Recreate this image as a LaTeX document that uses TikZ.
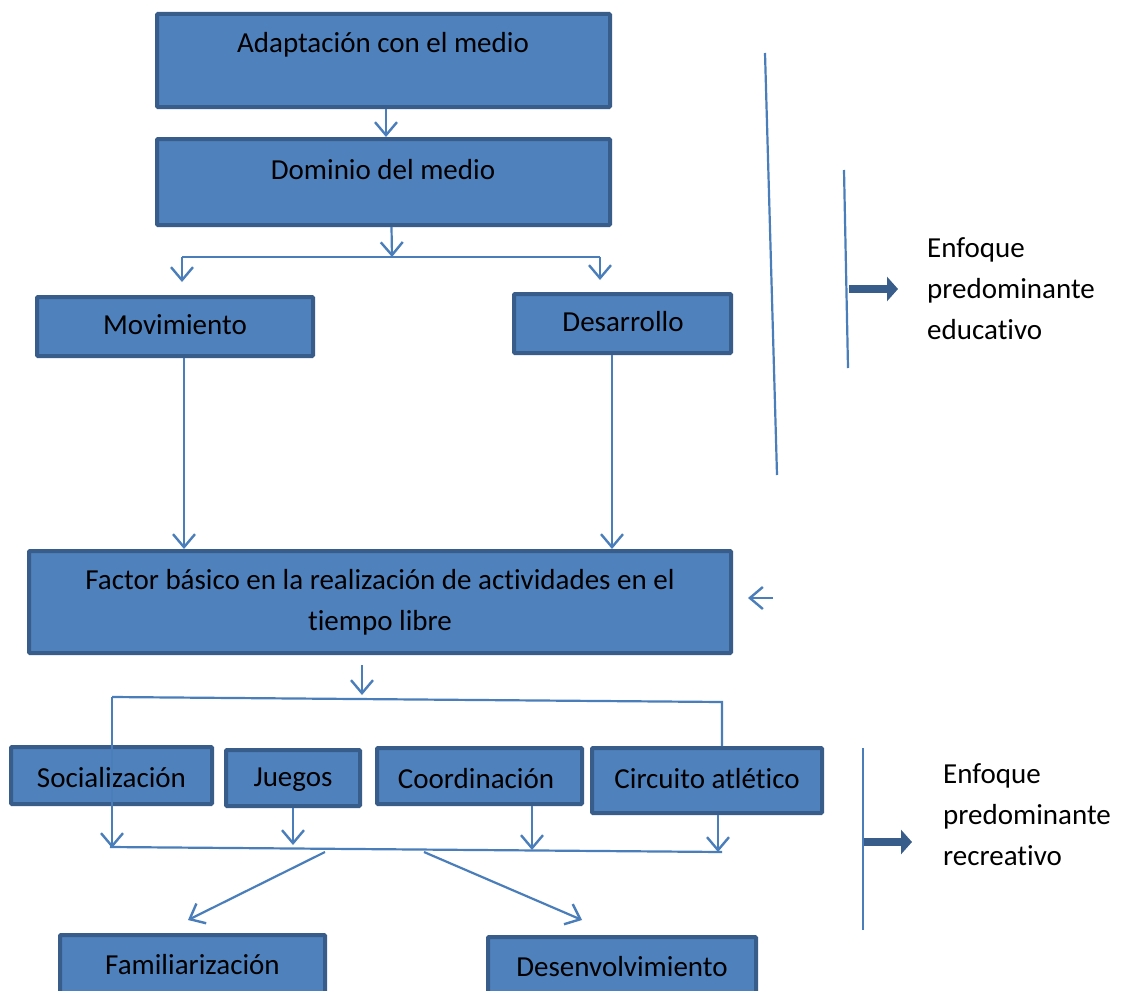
\documentclass[tikz,border=0pt]{standalone}
\usepackage{fontspec}
\setmainfont{Carlito}[Ligatures={NoCommon,NoRequired,NoContextual}]
\usetikzlibrary{arrows.meta,calc}
\definecolor{boxfill}{RGB}{79,129,189}
\definecolor{boxedge}{RGB}{56,93,138}
\definecolor{connc}{RGB}{74,126,187}
\begin{document}
\begin{tikzpicture}[x=1pt,y=-1pt,
  box/.style={draw=boxedge, fill=boxfill, line width=4pt, inner sep=0pt, rounded corners=1pt},
  txt/.style={font=\fontsize{29}{41}\selectfont, text=black, inner sep=0pt, align=center},
  side/.style={font=\fontsize{29}{41}\selectfont, text=black, inner sep=0pt, align=left, anchor=west},
  conn/.style={draw=connc, line width=2.2pt},
  arr/.style={conn, -{Straight Barb[length=13pt,width=22pt,line width=2.4pt]}},
  bigarr/.style={draw=boxedge, line width=8pt, -{Triangle[length=11pt,width=24pt]}}]
\path[use as bounding box] (0,0) rectangle (1126,990);
\clip (0,0) rectangle (1126,990);
\fill[white] (0,0) rectangle (1126,990);

% boxes
\node[box, minimum width=453pt, minimum height=93pt] (b1) at (383.5,60.5) {};
\node[txt] (t1) at (383,45) {Adaptación con el medio};
\node[box, minimum width=453pt, minimum height=86pt] (b2) at (383.5,182) {};
\node[txt] (t2) at (383,170) {Dominio del medio};
\node[box, minimum width=276pt, minimum height=59pt] (mov) at (175,326.5) {};
\node[txt] (tmov) at (175,325) {Movimiento};
\node[box, minimum width=217pt, minimum height=59pt] (des) at (622.5,323.5) {};
\node[txt] (tdes) at (623,322) {Desarrollo};
\node[box, minimum width=702pt, minimum height=102pt] (fac) at (380,602) {};
\node[txt] (tfac) at (380,602) {Factor básico en la realización de actividades en el\\tiempo libre};
\node[box, minimum width=201pt, minimum height=57pt] (soc) at (111.5,775.5) {};
\node[txt] (tsoc) at (111.5,778) {Socialización};
\node[box, minimum width=134pt, minimum height=56pt] (jue) at (293,778) {};
\node[txt] (tjue) at (293,780) {Juegos};
\node[box, minimum width=205pt, minimum height=56pt] (coo) at (479.5,776) {};
\node[txt] (tcoo) at (476,779) {Coordinación};
\node[box, minimum width=230pt, minimum height=65pt] (cir) at (707,780.5) {};
\node[txt] (tcir) at (707,779) {Circuito atlético};
\node[box, minimum width=265pt, minimum height=66pt] (fam) at (192.5,968) {};
\node[txt] (tfam) at (192.5,965) {Familiarización};
\node[box, minimum width=268pt, minimum height=65pt] (dsv) at (622,969.5) {};
\node[txt] (tdsv) at (622,967) {Desenvolvimiento};

% coordinates
\coordinate (j1) at (392,257);
\coordinate (jl) at (182,257);
\coordinate (jr) at (600,257);
\coordinate (jlb) at (182,282);
\coordinate (jrb) at (600,280);
\coordinate (la) at (773,598);
\coordinate (lb) at (748,598);
\coordinate (fa) at (362,665);
\coordinate (fb) at (362,695);
\coordinate (hl) at (112,697);
\coordinate (hr) at (722,702);
\coordinate (hlb) at (112,848);
\coordinate (bl) at (110,847);
\coordinate (br) at (722,852);
\coordinate (jueb) at (293,845);
\coordinate (coob) at (532,850);
\coordinate (cirb) at (718,852);
\coordinate (d1) at (325,852);
\coordinate (d1e) at (188,920);
\coordinate (d2) at (424,852);
\coordinate (d2e) at (582,920);
\coordinate (e1a) at (765,53);
\coordinate (e1b) at (777,475);
\coordinate (e2a) at (844,170);
\coordinate (e2b) at (848,368);
\coordinate (ea) at (849,289);
\coordinate (eb) at (898,289);
\coordinate (r1a) at (863,748);
\coordinate (r1b) at (863,930);
\coordinate (ra) at (864,842);
\coordinate (rb) at (912,842);

% connectors
\draw[arr] ([xshift=2.5pt]b1.south) -- ([xshift=2.5pt]b2.north);
\draw[arr] ([xshift=8pt]b2.south) -- (j1);
\draw[conn] (jl) -- (jr);
\draw[arr] (jl) -- (jlb);
\draw[arr] (jr) -- (jrb);
\draw[arr] ([xshift=9pt]mov.south) -- ([xshift=9pt]mov.south |- fac.north);
\draw[arr] ([xshift=-10.5pt]des.south) -- ([xshift=-10.5pt]des.south |- fac.north);
\draw[arr] (la) -- (lb);
\draw[arr] (fa) -- (fb);
\draw[conn] (hl) -- (hr) -- (hr |- cir.north);
\draw[arr] (hl) -- (hlb);
\draw[arr] (jue.south) -- (jueb);
\draw[arr] (coob |- coo.south) -- (coob);
\draw[arr] (cirb |- cir.south) -- (cirb);
\draw[conn] (bl) -- (br);
\draw[arr] (d1) -- (d1e);
\draw[arr] (d2) -- (d2e);

% side brackets
\draw[conn] (e1a) -- (e1b);
\draw[conn] (e2a) -- (e2b);
\draw[bigarr] (ea) -- (eb);
\node[side] (edu) at (927,289) {Enfoque\\predominante\\educativo};
\draw[conn] (r1a) -- (r1b);
\draw[bigarr] (ra) -- (rb);
\node[side] (rec) at (943,815) {Enfoque\\predominante\\recreativo};
\end{tikzpicture}
\end{document}
